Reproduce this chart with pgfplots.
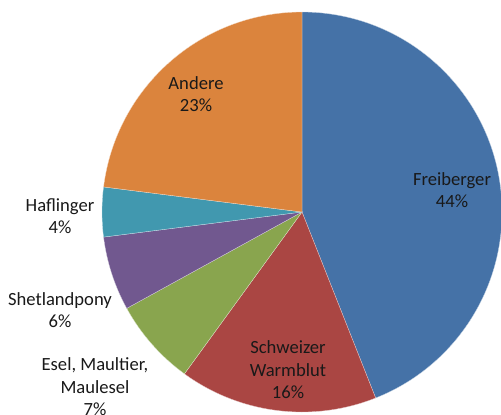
\documentclass[border=0pt]{standalone}
\usepackage{pgfplots}
\usepackage{pgfplotstable}
\pgfplotsset{compat=1.18}
\usepackage{fontspec}
\setmainfont{Carlito}

\definecolor{cFrei}{HTML}{4572A7}
\definecolor{cSchw}{HTML}{AA4643}
\definecolor{cEsel}{HTML}{89A54E}
\definecolor{cShet}{HTML}{71588F}
\definecolor{cHafl}{HTML}{4198AF}
\definecolor{cAnd}{HTML}{DB843D}

% Anteile in Prozent, im Uhrzeigersinn ab 12 Uhr
\pgfplotstableread{
value col
44 cFrei
16 cSchw
7  cEsel
6  cShet
4  cHafl
23 cAnd
}\piedata

\def\cum{0}
\pgfplotsforeachungrouped \i in {0,...,5}{%
  \pgfplotstablegetelem{\i}{value}\of\piedata \let\v\pgfplotsretval
  \pgfplotstablegetelem{\i}{col}\of\piedata
  \expandafter\let\csname scol\i\endcsname\pgfplotsretval
  \pgfmathsetmacro\a{90-3.6*\cum}\expandafter\let\csname sa\i\endcsname\a
  \pgfmathsetmacro\cum{\cum+\v}
  \pgfmathsetmacro\b{90-3.6*\cum}\expandafter\let\csname sb\i\endcsname\b
}

\begin{document}
\begin{tikzpicture}
\begin{axis}[
  scale only axis,width=250.5pt,height=207pt,
  xmin=-302,xmax=199,ymin=-202,ymax=212,
  hide axis,clip=false
]
\pgfplotsinvokeforeach{0,...,5}{%
  \edef\temp{\noexpand\fill[fill=\csname scol#1\endcsname,draw=white!70!\csname scol#1\endcsname,line width=0.15pt]
    (axis cs:0,0) -- ++(\csname sa#1\endcsname:100pt)
    arc[start angle=\csname sa#1\endcsname,end angle=\csname sb#1\endcsname,radius=100pt] -- cycle;}%
  \temp
}
\tikzset{lbl/.style={align=center,text=black!90,font=\fontsize{9.3}{11.3}\selectfont}}
\node[lbl] at (axis cs:150,22) {Freiberger\\44\%};
\node[lbl] at (axis cs:-14,-158) {Schweizer\\Warmblut\\16\%};
\node[lbl] at (axis cs:-207,-175) {Esel, Maultier,\\Maulesel\\7\%};
\node[lbl] at (axis cs:-242,-98) {Shetlandpony\\6\%};
\node[lbl] at (axis cs:-242,-4) {Haflinger\\4\%};
\node[lbl] at (axis cs:-106,118) {Andere\\23\%};
\end{axis}
\pgfresetboundingbox
\useasboundingbox (current axis.south west) rectangle (current axis.north east);
\end{tikzpicture}
\end{document}
